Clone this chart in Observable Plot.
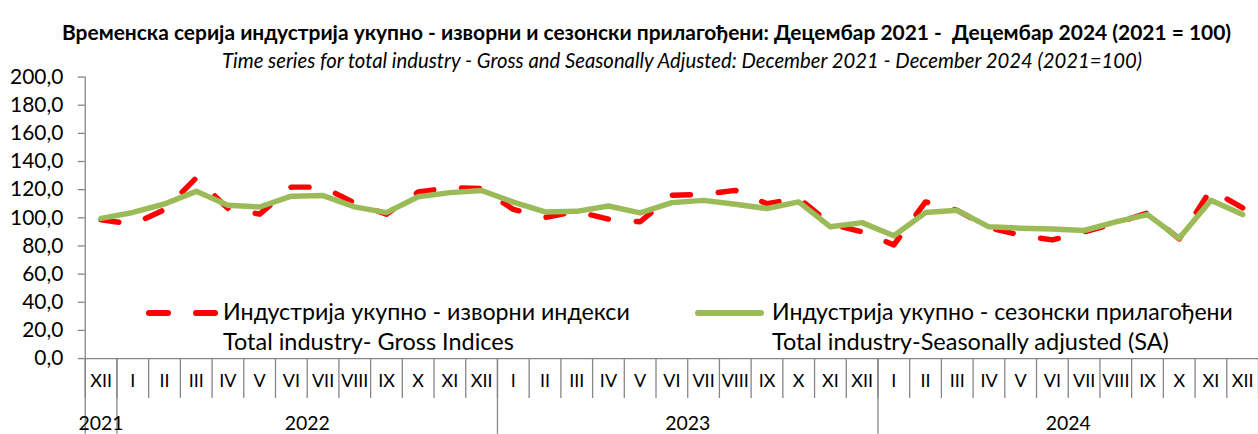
<!DOCTYPE html>
<html>
<head>
<meta charset="utf-8">
<script src="https://cdn.jsdelivr.net/npm/d3@7"></script>
<script src="https://cdn.jsdelivr.net/npm/@observablehq/plot@0.6"></script>
<style>
  html, body { margin: 0; padding: 0; background: #fff; }
  body { width: 1258px; height: 434px; overflow: hidden; position: relative; font-family: Lato, "Open Sans", sans-serif; color: #000; }
  .t { position: absolute; white-space: pre; }
  #title { font-weight: bold; }
  #subtitle { font-style: italic; }
  #chart { position: absolute; left: 0; top: 66px; }
  .sw { position: absolute; height: 6px; border-radius: 3px; }
</style>
</head>
<body>
<div id="chart"></div>
<div id="title" class="t" data-left="62" data-w="1170" data-cy="32" data-fs="18">Временска серија индустрија укупно - изворни и сезонски прилагођени: Децембар 2021 -  Децембар 2024 (2021 = 100)</div>
<div id="subtitle" class="t" data-left="222" data-w="921" data-cy="60" data-fs="17">Time series for total industry - Gross and Seasonally Adjusted: December 2021 - December 2024 (2021=100)</div>

<div class="sw" style="left:146px;top:310px;width:25px;background:#FF0000"></div>
<div class="sw" style="left:193px;top:310px;width:25px;background:#FF0000"></div>
<div class="t leg" data-left="223" data-w="407" data-cy="311" data-fs="21">Индустрија укупно - изворни индекси</div>
<div class="t leg" data-left="223" data-w="291" data-cy="341" data-fs="21">Total industry- Gross Indices</div>

<div class="sw" style="left:695px;top:310px;width:69px;background:#9BBB59"></div>
<div class="t leg" data-left="772" data-w="461" data-cy="311" data-fs="21">Индустрија укупно - сезонски прилагођени</div>
<div class="t leg" data-left="772" data-w="397" data-cy="341" data-fs="21">Total industry-Seasonally adjusted (SA)</div>

<script>
// ---- data ----
const months = ["XII",
  "I","II","III","IV","V","VI","VII","VIII","IX","X","XI","XII",
  "I","II","III","IV","V","VI","VII","VIII","IX","X","XI","XII",
  "I","II","III","IV","V","VI","VII","VIII","IX","X","XI","XII"];
const years = ["2021", "2022", "2023", "2024"];
const monthsPerYear = [1, 12, 12, 12];
const gross = [98.6, 95.5, 105.8, 128.3, 106.6, 102.6, 121.8, 121.8, 110.5, 102.6, 118.3, 121.5, 120.7,
               106.0, 100.3, 104.5, 99.0, 97.2, 116.0, 116.8, 119.5, 110.0, 114.0, 95.5, 90.0,
               80.8, 111.3, 105.3, 93.0, 87.6, 84.3, 90.0, 96.0, 103.5, 85.0, 120.0, 107.0];
const sa = [99.6, 103.8, 109.8, 118.8, 109.0, 107.7, 115.4, 115.8, 107.8, 103.7, 115.0, 117.9, 119.4,
            111.2, 104.2, 104.6, 108.4, 103.5, 110.8, 112.4, 109.6, 106.6, 111.3, 93.6, 96.6,
            87.2, 103.7, 105.3, 93.6, 92.6, 92.0, 91.0, 97.1, 102.3, 85.5, 112.4, 102.3];
const yTicks = [0, 20, 40, 60, 80, 100, 120, 140, 160, 180, 200];

// ---- derived tables ----
const rows = months.map((m, i) => ({i, month: m, gross: gross[i], sa: sa[i]}));
let start = 0;
const yearRows = years.map((y, k) => {
  const s = start; start += monthsPerYear[k];
  return {year: y, center: (s + start - 1) / 2, boundary: s - 0.5};
});
const monthBounds = d3.range(months.length + 1).map(k => k - 0.5);
const fmt = d => d3.format(".1f")(d).replace(".", ",");
const grey = "#868686";

const chart = Plot.plot({
  width: 1262, height: 368,
  marginLeft: 85, marginRight: 0, marginTop: 10.6, marginBottom: 75,
  style: {fontFamily: "Lato, 'Open Sans', sans-serif", background: "transparent", overflow: "visible", color: "#000"},
  x: {domain: [-0.5, months.length - 0.5], axis: null},
  y: {domain: [0, 200], axis: null},
  marks: [
    Plot.axisY({ticks: yTicks, tickFormat: fmt, tickSize: 7, tickPadding: 15, fontSize: 21, stroke: grey, strokeWidth: 1.3, fill: "#000", label: null}),
    Plot.ruleX([-0.5], {stroke: grey, strokeWidth: 1.3}),
    Plot.ruleY([0], {x1: -0.5, x2: months.length - 0.5, stroke: grey, strokeWidth: 1.3}),
    Plot.ruleX(monthBounds, {x: d => d, y1: 0, y2: 0, insetBottom: -40, stroke: grey, strokeWidth: 1.3}),
    Plot.ruleX(yearRows, {x: "boundary", y1: 0, y2: 0, insetBottom: -76, stroke: grey, strokeWidth: 1.3}),
    Plot.text(rows, {x: "i", text: "month", frameAnchor: "bottom", dy: 29, fontSize: 18, fill: "#000"}),
    Plot.text(yearRows, {x: "center", text: "year", frameAnchor: "bottom", dy: 72, fontSize: 19.5, fill: "#000"}),
    Plot.line(rows, {x: "i", y: "gross", stroke: "#FF0000", strokeWidth: 5.5, strokeDasharray: "18,28", strokeLinecap: "round", strokeLinejoin: "round"}),
    Plot.line(rows, {x: "i", y: "sa", stroke: "#9BBB59", strokeWidth: 5.5, strokeLinecap: "round", strokeLinejoin: "round"})
  ]
});
document.getElementById("chart").appendChild(chart);

// ---- fit html texts to their measured extents ----
function fitTexts() {
  document.querySelectorAll(".t").forEach(el => {
    let fs = +el.dataset.fs;
    el.style.fontSize = fs + "px";
    el.style.left = el.dataset.left + "px";
    const w = el.getBoundingClientRect().width;
    if (w > 0) fs = fs * (+el.dataset.w) / w;
    el.style.fontSize = fs + "px";
    el.style.lineHeight = Math.round(fs * 1.3) + "px";
    el.style.top = (+el.dataset.cy - fs * 0.65) + "px";
  });
}
fitTexts();
if (document.fonts && document.fonts.ready) document.fonts.ready.then(fitTexts);
</script>
</body>
</html>
